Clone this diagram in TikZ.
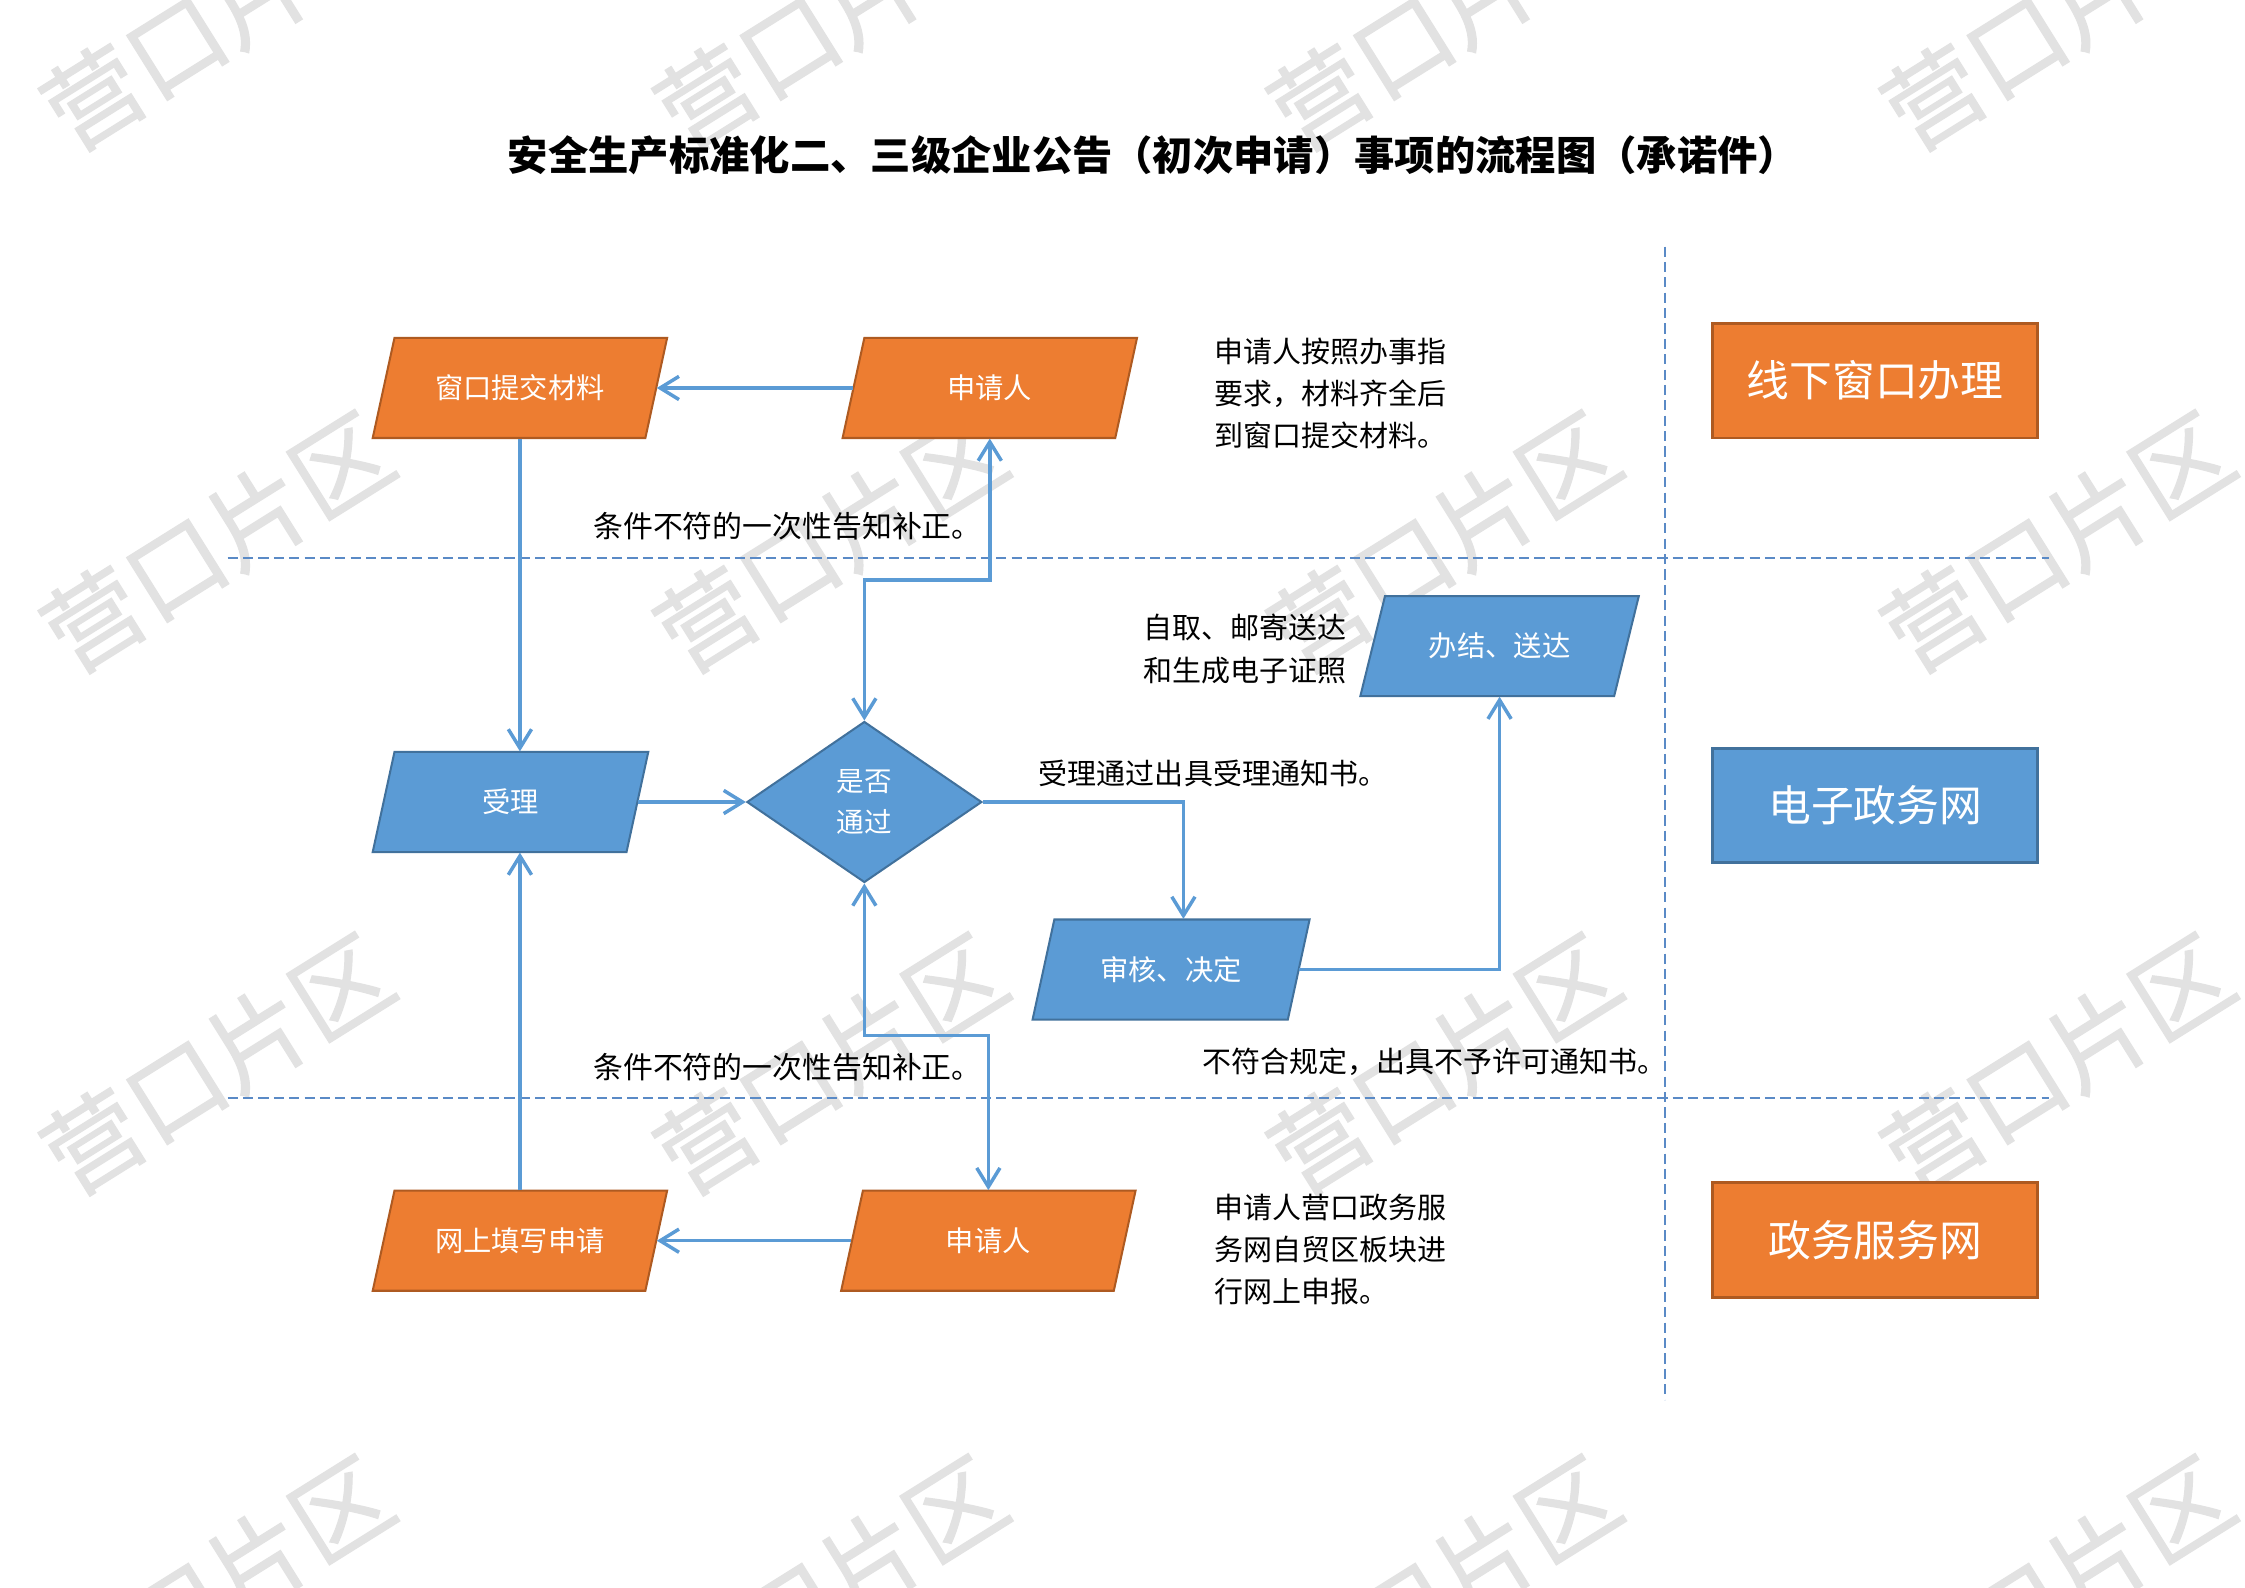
\documentclass[tikz,border=0pt]{standalone}
\usepackage{fontspec}
\setmainfont{Noto Sans CJK SC}
\newfontfamily\wmfont[FakeBold=1.2]{Noto Sans CJK SC}
\usetikzlibrary{arrows.meta,shapes.geometric,calc}
\definecolor{orgfill}{HTML}{ED7D31}
\definecolor{orgline}{HTML}{AE5A21}
\definecolor{blufill}{HTML}{5B9BD5}
\definecolor{bluline}{HTML}{41719C}
\definecolor{conncol}{HTML}{5B9BD5}
\definecolor{dashcol}{HTML}{5A8AC6}
\definecolor{wmcol}{HTML}{E2E2E2}
% parallelogram: name, cx, cy, width, half skew, fill style, text
\newcommand{\pgram}[7]{%
  \path[#6] (#2-#4/2+#5,#3-34.5) -- (#2+#4/2+#5,#3-34.5) -- (#2+#4/2-#5,#3+34.5) -- (#2-#4/2-#5,#3+34.5) -- cycle;
  \node[ptext, minimum width=#4*0.5pt, minimum height=34.5pt] (#1) at (#2,#3) {#7};
}
\begin{document}
\begin{tikzpicture}[x=0.5pt,y=-0.5pt,
  orgbox/.style={fill=orgfill, draw=orgline, line width=0.7pt},
  blubox/.style={fill=blufill, draw=bluline, line width=0.7pt},
  ptext/.style={inner sep=0pt, text=white, font=\fontsize{9.75pt}{12pt}\selectfont},
  bigbox/.style={rectangle, minimum width=112pt, minimum height=39.5pt, inner sep=0pt, line width=1pt, text=white, font=\fontsize{14.75pt}{18pt}\selectfont},
  tip/.tip={Straight Barb[length=6.5pt,width=8pt]},
  conn/.style={draw=conncol, line width=1.2pt, -tip},
  dconn/.style={draw=conncol, line width=1.2pt, tip-tip},
  dashln/.style={draw=dashcol, line width=0.6pt, dash pattern=on 3.5pt off 1.8pt},
  ann/.style={inner sep=0pt, anchor=west, align=left, font=\fontsize{10pt}{14.5pt}\selectfont},
  wm/.style={inner sep=0pt, text=wmcol, rotate=32, font=\wmfont\fontsize{33.5pt}{36pt}\selectfont}
]
\clip (0,0) rectangle (1548,1094.3);
\fill[white] (0,0) rectangle (1548,1094.3);
% watermarks
\foreach \i in {0,...,3}{
  \foreach \j in {0,...,3}{
    \node[wm] (wm\i\j) at ({149.6+423*\i},{13.7+360*\j}) {营口片区};
  }
}
% lane separators
\coordinate (h1a) at (157,385); \coordinate (h1b) at (1413,385);
\coordinate (h2a) at (157,757); \coordinate (h2b) at (1413,757);
\coordinate (v1a) at (1148,170); \coordinate (v1b) at (1148,965);
\draw[dashln] (h1a) -- (h1b);
\draw[dashln] (h2a) -- (h2b);
\draw[dashln] (v1a) -- (v1b);
% title
\node[inner sep=0pt, font=\fontsize{13.9pt}{16pt}\selectfont\bfseries] (title) at (795,107) {安全生产标准化二、三级企业公告（初次申请）事项的流程图（承诺件）};
% shapes
\pgram{wk}{358.5}{267.5}{188}{7.5}{orgbox}{窗口提交材料}
\pgram{pa}{682.5}{267.5}{188}{7.5}{orgbox}{申请人}
\pgram{sl}{352}{553}{175}{7.5}{blubox}{受理}
\pgram{bj}{1034}{445.5}{175}{8.5}{blubox}{办结、送达}
\pgram{sh}{807.5}{668.5}{176}{7.5}{blubox}{审核、决定}
\pgram{ws}{358.5}{855.5}{188}{7.5}{orgbox}{网上填写申请}
\pgram{pb}{681.5}{855.5}{188}{7.5}{orgbox}{申请人}
\node[diamond, aspect=1.46, minimum width=81pt, minimum height=55.5pt, inner sep=0pt, blubox, text=white, align=center, font=\fontsize{9.5pt}{14pt}\selectfont] (dm) at (596,553) {是否\\通过};
% lane labels
\node[bigbox, fill=orgfill, draw=orgline] (lane1) at (1293,262.5) {线下窗口办理};
\node[bigbox, fill=blufill, draw=bluline] (lane2) at (1293,555.5) {电子政务网};
\node[bigbox, fill=orgfill, draw=orgline] (lane3) at (1293,855) {政务服务网};
% annotations
\node[ann] (t1) at (837,271) {申请人按照办事指\\要求，材料齐全后\\到窗口提交材料。};
\node[ann] (t2) at (788,447.5) {自取、邮寄送达\\和生成电子证照};
\node[ann] (t3) at (716,533) {受理通过出具受理通知书。};
\node[ann] (t4) at (829,732) {不符合规定，出具不予许可通知书。};
\node[ann] (t5) at (837,861.5) {申请人营口政务服\\务网自贸区板块进\\行网上申报。};
\node[inner sep=0pt, font=\fontsize{10.3pt}{12pt}\selectfont] (t6) at (543,363) {条件不符的一次性告知补正。};
\node[inner sep=0pt, font=\fontsize{10.3pt}{12pt}\selectfont] (t7) at (543,736) {条件不符的一次性告知补正。};
% connectors
\coordinate (k1) at (640,400);
\coordinate (k2) at (640,714);
\draw[conn] (pa.west) -- (wk.east);
\draw[conn] (wk.south) -- (wk.south |- sl.north);
\draw[conn] (sl.east) -- (dm.west);
\draw[dconn] (dm.north) |- (k1) -| (pa.south);
\draw[conn] (dm.east) -| ($(sh.north)+(8.5,0)$);
\draw[conn] (sh.east) -| (bj.south);
\draw[dconn] (dm.south) |- (k2) -| (pb.north);
\draw[conn] (pb.west) -- (ws.east);
\draw[conn] (ws.north) -- (ws.north |- sl.south);
\end{tikzpicture}
\end{document}
